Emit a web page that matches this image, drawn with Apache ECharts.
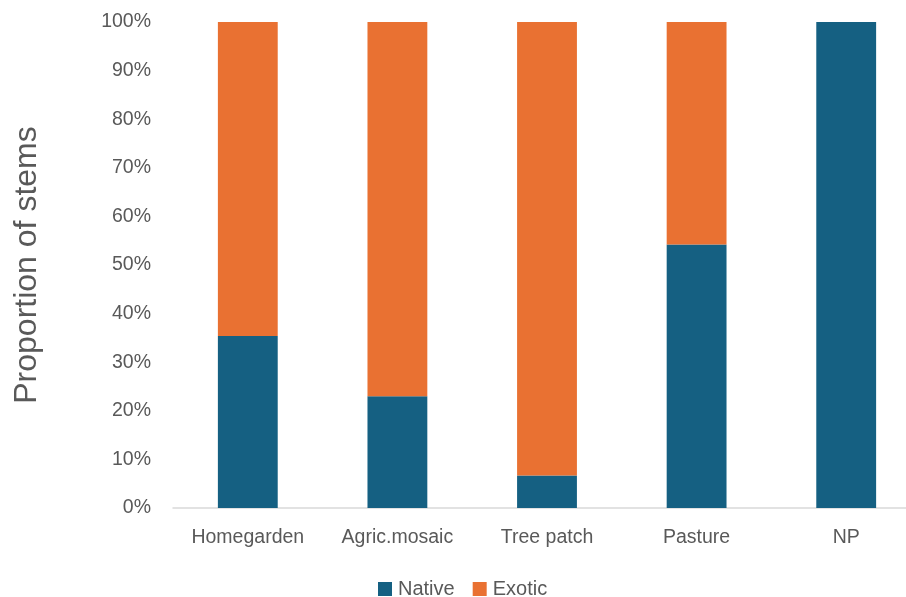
<!DOCTYPE html>
<html><head><meta charset="utf-8">
<script src="https://cdn.jsdelivr.net/npm/echarts@6/dist/echarts.min.js"></script>
<style>html,body{margin:0;padding:0;background:#fff}#c{width:906px;height:597px}</style>
</head><body><div id="c"></div>
<script>
const categories = ['Homegarden', 'Agric.mosaic', 'Tree patch', 'Pasture', 'NP'];
const native = [35.4, 23.0, 6.7, 54.2, 100];
const exotic = [64.6, 77.0, 93.3, 45.8, 0];
const yTicks = [0, 10, 20, 30, 40, 50, 60, 70, 80, 90, 100];

const chart = echarts.init(document.getElementById('c'));
chart.setOption({
  animation: false,
  textStyle: { fontFamily: 'Liberation Sans, Arial, sans-serif' },
  grid: { left: 173, right: -15, top: 22, bottom: 89, outerBoundsMode: 'none', containLabel: false },
  legend: {
    top: 579, left: 378, padding: 0, itemWidth: 14, itemHeight: 14, itemGap: 18,
    icon: 'rect',
    textStyle: { color: '#595959', fontSize: 20, padding: [0, 0, 0, 1] },
    data: ['Native', 'Exotic']
  },
  xAxis: {
    type: 'category', data: categories,
    axisLine: { lineStyle: { color: '#d9d9d9', width: 1.5 } },
    axisTick: { show: false },
    axisLabel: { color: '#595959', fontSize: 19.5, margin: 20 }
  },
  yAxis: {
    type: 'value', min: 0, max: 100, interval: 10,
    name: 'Proportion of stems', nameLocation: 'middle', nameGap: 130,
    nameTextStyle: { color: '#595959', fontSize: 32 },
    axisLine: { show: false }, axisTick: { show: false },
    splitLine: { show: false },
    axisLabel: { color: '#595959', fontSize: 19.5, margin: 22,
      formatter: v => yTicks.includes(v) ? v + '%' : '' }
  },
  series: [
    { name: 'Native', type: 'bar', stack: 's', data: native, barWidth: '40%',
      itemStyle: { color: '#156082' } },
    { name: 'Exotic', type: 'bar', stack: 's', data: exotic, barWidth: '40%',
      itemStyle: { color: '#E97132' } }
  ]
});
</script></body></html>
